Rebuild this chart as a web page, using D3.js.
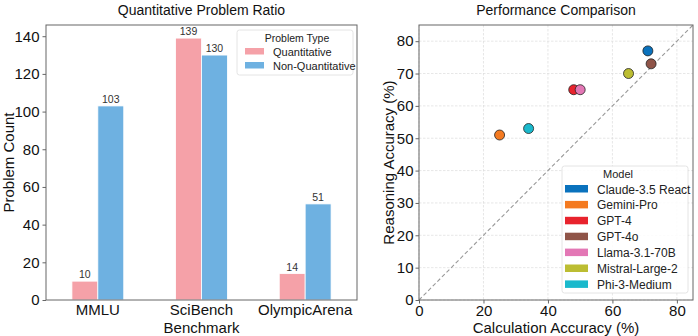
<!DOCTYPE html>
<html>
<head>
<meta charset="utf-8">
<script src="https://cdn.jsdelivr.net/npm/d3@7"></script>
<style>
  body { margin: 0; background: #fff; }
  svg, svg text { font-family: "Liberation Sans", Arial, sans-serif; }
</style>
</head>
<body>
<svg id="chart" width="698" height="336"></svg>
<script>
(() => {

    // left panel data
    const benchmarks = ["MMLU", "SciBench", "OlympicArena"];
    const quantitative = [10, 139, 14];
    const nonQuantitative = [103, 130, 51];
    const problemTypes = ["Quantitative", "Non-Quantitative"];
    const barTicks = [0, 20, 40, 60, 80, 100, 120, 140];

    // right panel data
    const models = ["Claude-3.5 React", "Gemini-Pro", "GPT-4", "GPT-4o", "Llama-3.1-70B", "Mistral-Large-2", "Phi-3-Medium"];
    const calcAccuracy = [71, 25, 48, 72, 50, 65, 34];
    const reasonAccuracy = [77, 51, 65, 73, 65, 70, 53];
    const modelColors = ["#0a72bd", "#f47a20", "#e8232d", "#8f5448", "#e377b5", "#bcbd32", "#1ab9cc"];
    const xTicks = [0, 20, 40, 60, 80];
    const yTicks = [0, 10, 20, 30, 40, 50, 60, 70, 80];

    const typeColors = ["#f5a1a8", "#6eb1e1"];
    const spine = "#666";

    const svg = d3.select("svg#chart");

    const styleAxis = g => {
        g.attr("font-family", null).attr("font-size", null);
        g.select(".domain").remove();
        g.selectAll("line").attr("stroke", spine);
        g.selectAll("text").attr("font-size", 15).attr("fill", "#111");
    };

    // ---------- Quantitative Problem Ratio ----------
    const L = {left: 46, right: 357, top: 25, bottom: 300};
    const xBar = d3.scaleLinear().domain([-0.5, 2.5]).range([L.left, L.right]);
    const yBar = d3.scaleLinear().domain([0, 139 * 1.05]).range([L.bottom, L.top]);
    const bw = 0.25;

    const left = svg.append("g");

    const rows = benchmarks.map((b, i) => ({name: b, i, vals: [quantitative[i], nonQuantitative[i]]}));
    const bars = rows.flatMap(r => r.vals.map((v, k) => ({i: r.i, k, v})));

    left.selectAll("rect.bar")
        .data(bars)
        .enter().append("rect")
        .attr("class", "bar")
        .attr("x", d => xBar(d.i + (d.k === 0 ? -bw : 0)))
        .attr("y", d => yBar(d.v))
        .attr("width", xBar(bw) - xBar(0))
        .attr("height", d => yBar(0) - yBar(d.v))
        .attr("fill", d => typeColors[d.k])
        .attr("stroke", "#fff")
        .attr("stroke-width", 0.8);

    left.selectAll("text.val")
        .data(bars)
        .enter().append("text")
        .attr("x", d => xBar(d.i + (d.k === 0 ? -bw / 2 : bw / 2)))
        .attr("y", d => yBar(d.v) - 3)
        .attr("text-anchor", "middle")
        .attr("font-size", 10.5)
        .attr("fill", "#333")
        .text(d => d.v);

    // y axis
    left.append("g")
        .attr("transform", `translate(${L.left},0)`)
        .call(d3.axisLeft(yBar).tickValues(barTicks).tickSize(3.5).tickPadding(3))
        .call(styleAxis);

    // x tick labels
    left.selectAll("text.xt")
        .data(benchmarks)
        .enter().append("text")
        .attr("x", (d, i) => xBar(i))
        .attr("y", L.bottom + 15)
        .attr("text-anchor", "middle")
        .attr("font-size", 15)
        .attr("fill", "#111")
        .text(d => d);

    // frame
    left.append("rect")
        .attr("x", L.left).attr("y", L.top)
        .attr("width", L.right - L.left).attr("height", L.bottom - L.top)
        .attr("fill", "none").attr("stroke", spine).attr("stroke-width", 1);

    left.append("text")
        .attr("x", (L.left + L.right) / 2).attr("y", 333)
        .attr("text-anchor", "middle").attr("font-size", 15).attr("fill", "#111")
        .text("Benchmark");

    left.append("text")
        .attr("transform", `translate(14,${(L.top + L.bottom) / 2}) rotate(-90)`)
        .attr("text-anchor", "middle").attr("font-size", 15).attr("fill", "#111")
        .text("Problem Count");

    left.append("text")
        .attr("x", (L.left + L.right) / 2).attr("y", 15)
        .attr("text-anchor", "middle").attr("font-size", 14).attr("fill", "#111")
        .text("Quantitative Problem Ratio");

    // legend
    const lgL = left.append("g").attr("transform", "translate(237,30)");
    lgL.append("rect")
        .attr("width", 116).attr("height", 45).attr("rx", 2.5)
        .attr("fill", "#fff").attr("fill-opacity", 0.85)
        .attr("stroke", "#ddd").attr("stroke-width", 0.8);
    lgL.append("text")
        .attr("x", 60).attr("y", 12)
        .attr("text-anchor", "middle").attr("font-size", 10.5).attr("fill", "#222")
        .text("Problem Type");
    problemTypes.forEach((t, k) => {
        lgL.append("rect")
            .attr("x", 8).attr("y", 18 + k * 14)
            .attr("width", 19).attr("height", 6.5)
            .attr("fill", typeColors[k]);
        lgL.append("text")
            .attr("x", 36).attr("y", 25.5 + k * 14)
            .attr("font-size", 11).attr("fill", "#222")
            .text(t);
    });

    // ---------- Performance Comparison ----------
    const R = {left: 419, right: 693, top: 25, bottom: 300};
    const xSc = d3.scaleLinear().domain([0, 85]).range([R.left, R.right]);
    const ySc = d3.scaleLinear().domain([0, 85]).range([R.bottom, R.top]);

    const right = svg.append("g");

    // grid
    right.append("g").selectAll("line")
        .data(xTicks).enter().append("line")
        .attr("x1", d => xSc(d)).attr("x2", d => xSc(d))
        .attr("y1", R.top).attr("y2", R.bottom)
        .attr("stroke", "#ddd").attr("stroke-width", 0.7).attr("stroke-dasharray", "2.5,1.5");
    right.append("g").selectAll("line")
        .data(yTicks).enter().append("line")
        .attr("x1", R.left).attr("x2", R.right)
        .attr("y1", d => ySc(d)).attr("y2", d => ySc(d))
        .attr("stroke", "#ddd").attr("stroke-width", 0.7).attr("stroke-dasharray", "2.5,1.5");

    // diagonal
    right.append("line")
        .attr("x1", xSc(0)).attr("y1", ySc(0))
        .attr("x2", xSc(85)).attr("y2", ySc(85))
        .attr("stroke", "#999").attr("stroke-width", 1.1).attr("stroke-dasharray", "4,2.5");

    // points
    const pts = models.map((m, i) => ({m, x: calcAccuracy[i], y: reasonAccuracy[i], c: modelColors[i]}));
    right.selectAll("circle")
        .data(pts)
        .enter().append("circle")
        .attr("cx", d => xSc(d.x))
        .attr("cy", d => ySc(d.y))
        .attr("r", 5)
        .attr("fill", d => d.c)
        .attr("stroke", "#222")
        .attr("stroke-width", 0.8);

    right.append("g")
        .attr("transform", `translate(0,${R.bottom})`)
        .call(d3.axisBottom(xSc).tickValues(xTicks).tickSize(3.5).tickPadding(2))
        .call(styleAxis);

    right.append("g")
        .attr("transform", `translate(${R.left},0)`)
        .call(d3.axisLeft(ySc).tickValues(yTicks).tickSize(3.5).tickPadding(2))
        .call(styleAxis);

    right.append("rect")
        .attr("x", R.left).attr("y", R.top)
        .attr("width", R.right - R.left).attr("height", R.bottom - R.top)
        .attr("fill", "none").attr("stroke", spine).attr("stroke-width", 1);

    right.append("text")
        .attr("x", (R.left + R.right) / 2).attr("y", 333)
        .attr("text-anchor", "middle").attr("font-size", 15).attr("fill", "#111")
        .text("Calculation Accuracy (%)");

    right.append("text")
        .attr("transform", `translate(394,${(R.top + R.bottom) / 2}) rotate(-90)`)
        .attr("text-anchor", "middle").attr("font-size", 15).attr("fill", "#111")
        .text("Reasoning Accuracy (%)");

    right.append("text")
        .attr("x", (R.left + R.right) / 2).attr("y", 15)
        .attr("text-anchor", "middle").attr("font-size", 14).attr("fill", "#111")
        .text("Performance Comparison");

    // legend
    const lgR = right.append("g").attr("transform", "translate(562,166)");
    lgR.append("rect")
        .attr("width", 126).attr("height", 127).attr("rx", 2.5)
        .attr("fill", "#fff").attr("fill-opacity", 0.85)
        .attr("stroke", "#ddd").attr("stroke-width", 0.8);
    lgR.append("text")
        .attr("x", 56).attr("y", 12)
        .attr("text-anchor", "middle").attr("font-size", 11).attr("fill", "#222")
        .text("Model");
    models.forEach((m, i) => {
        lgR.append("rect")
            .attr("x", 3).attr("y", 19 + i * 15.9)
            .attr("width", 23).attr("height", 7.5)
            .attr("fill", modelColors[i]);
        lgR.append("text")
            .attr("x", 35).attr("y", 27.5 + i * 15.9)
            .attr("font-size", 12).attr("fill", "#222")
            .text(m);
    });

})();
</script>
</body>
</html>
